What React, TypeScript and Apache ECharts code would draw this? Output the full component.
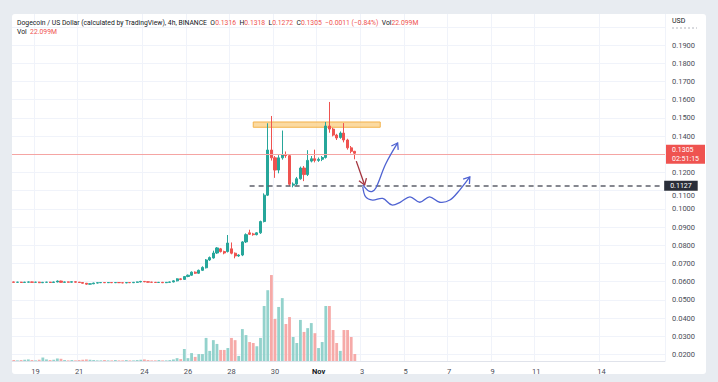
import React, { useEffect, useRef } from 'react';
import * as echarts from 'echarts';

// ---- axis categories: 4h slots from Oct 18 00:00 (UTC) ----
const START = Date.UTC(2021, 9, 18, 0, 0);
const SLOTS = 180;
const categories: string[] = Array.from({ length: SLOTS }, (_, i) => {
  const d = new Date(START + i * 4 * 3600 * 1000);
  return `${d.getUTCMonth() + 1}-${d.getUTCDate()} ${String(d.getUTCHours()).padStart(2, '0')}:00`;
});

// x tick labels (day offset from Oct 18)
const tickDayOffsets = [1, 3, 6, 8, 10, 12, 14, 16, 18, 20, 22, 24, 27];
const tickLabels = ['19', '21', '24', '26', '28', '30', 'Nov', '3', '5', '7', '9', '11', '14'];
// price-scale labels hidden behind the last-price tag / pushed below the level tag
const hiddenPriceLabels = ['0.1300'];
const shiftedPriceLabels = ['0.1100'];

// ---- candles ----
const opens = [
  0.0598, 0.0596, 0.0597, 0.0595, 0.0597, 0.0598, 0.0596, 0.0597, 0.0594, 0.0596,
  0.0597, 0.0595, 0.0598, 0.0603, 0.0596, 0.0598, 0.0597, 0.0599, 0.0597, 0.0595,
  0.0591, 0.0586, 0.0588, 0.0592, 0.0594, 0.0595, 0.0594, 0.0595, 0.0594, 0.0595,
  0.0594, 0.0593, 0.0595, 0.0594, 0.0596, 0.0598, 0.0601, 0.0599, 0.0597, 0.0596,
  0.0595, 0.0596, 0.0594, 0.0596, 0.0598, 0.0604, 0.0615, 0.0612, 0.0628, 0.0635,
  0.0652, 0.0646, 0.0662, 0.0676, 0.0719, 0.0730, 0.0757, 0.0780, 0.0765, 0.0765,
  0.0780, 0.0756, 0.0741, 0.0746, 0.0818, 0.0868, 0.0862, 0.0858, 0.0868, 0.0930,
  0.1075, 0.1323, 0.1280, 0.1213, 0.1280, 0.1298, 0.1292, 0.1130, 0.1136, 0.1165,
  0.1224, 0.1188, 0.1262, 0.1275, 0.1266, 0.1272, 0.1282, 0.1455, 0.1438, 0.1405,
  0.1392, 0.1416, 0.1378, 0.1335, 0.1316,
];
const closes = [
  0.0596, 0.0597, 0.0595, 0.0597, 0.0598, 0.0596, 0.0597, 0.0594, 0.0596, 0.0597,
  0.0595, 0.0598, 0.0603, 0.0596, 0.0598, 0.0597, 0.0599, 0.0597, 0.0595, 0.0591,
  0.0586, 0.0588, 0.0592, 0.0594, 0.0595, 0.0594, 0.0595, 0.0594, 0.0595, 0.0594,
  0.0593, 0.0595, 0.0594, 0.0596, 0.0598, 0.0601, 0.0599, 0.0597, 0.0596, 0.0595,
  0.0596, 0.0594, 0.0596, 0.0598, 0.0604, 0.0615, 0.0612, 0.0628, 0.0635, 0.0652,
  0.0646, 0.0662, 0.0678, 0.0719, 0.0732, 0.0757, 0.0785, 0.0765, 0.0757, 0.0812,
  0.0756, 0.0741, 0.0746, 0.0818, 0.0858, 0.0860, 0.0858, 0.0868, 0.0930, 0.1075,
  0.1323, 0.1280, 0.1213, 0.1280, 0.1298, 0.1292, 0.1135, 0.1136, 0.1165, 0.1224,
  0.1188, 0.1266, 0.1275, 0.1266, 0.1272, 0.1282, 0.1455, 0.1438, 0.1405, 0.1389,
  0.1416, 0.1378, 0.1335, 0.1316, 0.1305,
];
const highs = [
  0.0600, 0.0599, 0.0599, 0.0599, 0.0600, 0.0600, 0.0599, 0.0599, 0.0598, 0.0599,
  0.0599, 0.0600, 0.0606, 0.0605, 0.0600, 0.0600, 0.0601, 0.0601, 0.0598, 0.0597,
  0.0592, 0.0590, 0.0594, 0.0596, 0.0597, 0.0597, 0.0597, 0.0597, 0.0597, 0.0597,
  0.0596, 0.0597, 0.0597, 0.0598, 0.0600, 0.0604, 0.0603, 0.0601, 0.0599, 0.0598,
  0.0598, 0.0598, 0.0598, 0.0600, 0.0607, 0.0618, 0.0618, 0.0631, 0.0639, 0.0656,
  0.0656, 0.0666, 0.0684, 0.0724, 0.0738, 0.0770, 0.0790, 0.0785, 0.0770, 0.0856,
  0.0815, 0.0760, 0.0750, 0.0822, 0.0865, 0.0885, 0.0868, 0.0872, 0.0935, 0.1085,
  0.1470, 0.1510, 0.1290, 0.1295, 0.1430, 0.1315, 0.1300, 0.1145, 0.1175, 0.1232,
  0.1235, 0.1322, 0.1290, 0.1325, 0.1282, 0.1290, 0.1477, 0.1587, 0.1445, 0.1412,
  0.1425, 0.1471, 0.1385, 0.1345, 0.1318,
];
const lows = [
  0.0594, 0.0594, 0.0593, 0.0593, 0.0595, 0.0594, 0.0594, 0.0592, 0.0592, 0.0594,
  0.0593, 0.0593, 0.0596, 0.0594, 0.0594, 0.0595, 0.0595, 0.0595, 0.0593, 0.0589,
  0.0583, 0.0584, 0.0586, 0.0590, 0.0592, 0.0592, 0.0592, 0.0592, 0.0592, 0.0592,
  0.0591, 0.0591, 0.0592, 0.0592, 0.0594, 0.0596, 0.0597, 0.0595, 0.0594, 0.0593,
  0.0593, 0.0592, 0.0592, 0.0594, 0.0596, 0.0601, 0.0608, 0.0609, 0.0624, 0.0632,
  0.0642, 0.0643, 0.0658, 0.0672, 0.0714, 0.0726, 0.0752, 0.0760, 0.0750, 0.0760,
  0.0750, 0.0728, 0.0736, 0.0740, 0.0812, 0.0856, 0.0852, 0.0854, 0.0862, 0.0925,
  0.1070, 0.1265, 0.1170, 0.1195, 0.1270, 0.1280, 0.1125, 0.1118, 0.1128, 0.1160,
  0.1152, 0.1180, 0.1255, 0.1255, 0.1258, 0.1262, 0.1276, 0.1418, 0.1398, 0.1378,
  0.1385, 0.1365, 0.1325, 0.1305, 0.1272,
];
// volume in millions
const volumes = [
  3, 2, 3, 4, 5, 3, 2, 4, 11, 5,
  3, 4, 8, 7, 3, 2, 3, 2, 3, 4,
  5, 4, 3, 2, 2, 3, 2, 2, 3, 2,
  2, 3, 2, 2, 3, 4, 5, 3, 2, 2,
  3, 2, 2, 3, 5, 9, 6, 38, 9, 25,
  13, 22, 22, 73, 32, 66, 54, 35, 35, 41,
  73, 66, 16, 101, 82, 60, 57, 47, 73, 174,
  224, 272, 133, 171, 199, 117, 139, 76, 57, 130,
  92, 104, 120, 88, 41, 60, 174, 174, 98, 57,
  32, 98, 98, 76, 22.099,
];

// ---- drawn annotations (category index, price) ----
const resistanceZone = { fromIdx: 66, toIdx: 101, top: 0.1477, bottom: 0.1448 };
const supportLevel = 0.1127;
const supportStartIdx = 65;
const dropArrow = [[94.4, 0.1262], [96.7, 0.1131]];
const bounceArrow = [[96.2, 0.1131], [97.6, 0.1101], [98.7, 0.1095], [99.8, 0.1114], [102.5, 0.1246], [105.8, 0.1362]];
const rangeArrow = [
  [96.2, 0.1120], [97.0, 0.1065], [98.9, 0.1048], [101.7, 0.1057], [104.2, 0.1021], [106.6, 0.1037],
  [109.2, 0.1066], [111.9, 0.1036], [114.6, 0.1066], [117.4, 0.1036], [120.2, 0.1048], [122.9, 0.1103], [125.7, 0.1175],
];

const UP = '#26a69a';
const DOWN = '#ef5350';
const VOL_UP = '#93d2cc';
const VOL_DOWN = '#f6aaa8';
const FONT = 'Roboto, "Liberation Sans", Arial, sans-serif';

export default function App() {
  const ref = useRef<HTMLDivElement>(null);
  useEffect(() => {
    if (!ref.current) return;
    const chart = echarts.init(ref.current, null, { renderer: 'svg' });
    const tickIdx = tickDayOffsets.map((d) => d * 6);
    const last = opens.length - 1;
    const lastClose = closes[last];

    chart.setOption({
      animation: false,
      textStyle: { fontFamily: FONT },
      grid: [
        { left: 12, right: 53, top: 8.6, bottom: 9.4 },
        { left: 12, right: 53, top: 14, bottom: 21 },
      ],
      xAxis: [
        { type: 'category', gridIndex: 0, data: categories, show: false },
        {
          type: 'category', gridIndex: 1, data: categories,
          axisLine: { lineStyle: { color: '#e0e3eb' } },
          axisTick: { show: false },
          axisLabel: {
            interval: (i: number) => tickIdx.includes(i),
            formatter: (_v: string, i: number) => {
              const k = tickIdx.indexOf(i);
              if (k < 0) return '';
              const t = tickLabels[k];
              return t === 'Nov' ? `{b|${t}}` : t;
            },
            rich: { b: { fontWeight: 'bold', fontSize: 7.5, color: '#131722', fontFamily: FONT } },
            color: '#4a4d57', fontSize: 7.5, margin: 6, fontFamily: FONT,
          },
          splitLine: {
            show: true,
            interval: (i: number) => tickIdx.includes(i),
            lineStyle: { color: '#f0f3fa', width: 1 },
          },
        },
      ],
      yAxis: [
        {
          type: 'value', gridIndex: 0, position: 'right', min: 0.01, max: 0.21, interval: 0.01,
          axisLine: { show: false }, axisTick: { show: false },
          axisLabel: {
            color: '#4a4d57', fontSize: 7.5, margin: 7, fontFamily: FONT,
            formatter: (v: number) => {
              if (!(v > 0.015 && v < 0.195)) return '';
              const s = v.toFixed(4);
              if (hiddenPriceLabels.includes(s)) return '';
              return shiftedPriceLabels.includes(s) ? `{d|${s}}` : s;
            },
            rich: { d: { padding: [10, 0, 0, 0], color: '#4a4d57', fontSize: 7.5, fontFamily: FONT } },
          },
          splitLine: { show: true, showMinLine: false, showMaxLine: false, lineStyle: { color: '#f0f3fa' } },
        },
        { type: 'value', gridIndex: 1, min: 0, max: 1098, show: false, splitLine: { show: false } },
      ],
      series: [
        {
          type: 'bar', xAxisIndex: 1, yAxisIndex: 1, barWidth: '78%',
          data: volumes.map((v, i) => ({ value: v, itemStyle: { color: closes[i] >= opens[i] ? VOL_UP : VOL_DOWN } })),
          z: 1,
        },
        {
          type: 'candlestick', xAxisIndex: 0, yAxisIndex: 0, barWidth: '72%',
          data: opens.map((o, i) => [o, closes[i], lows[i], highs[i]]),
          itemStyle: { color: UP, color0: DOWN, borderColor: UP, borderColor0: DOWN, borderWidth: 1 },
          z: 3,
          markArea: {
            silent: true,
            itemStyle: { color: 'rgba(249,205,130,0.75)', borderColor: '#f3b24a', borderWidth: 1 },
            data: [[
              { xAxis: categories[resistanceZone.fromIdx], yAxis: resistanceZone.top },
              { xAxis: categories[resistanceZone.toIdx], yAxis: resistanceZone.bottom },
            ]],
          },
          markLine: {
            silent: true, symbol: ['none', 'none'],
            data: [
              {
                yAxis: lastClose,
                lineStyle: { color: '#f5a5a3', width: 1, type: 'solid' },
                label: {
                  show: true, position: 'end', distance: 1,
                  formatter: `${lastClose.toFixed(4)}\n02:51:15`,
                  backgroundColor: '#ef5350', color: '#fff', fontSize: 7, lineHeight: 9,
                  padding: [1, 6, 0, 6], fontFamily: FONT,
                },
              },
              [
                {
                  xAxis: categories[supportStartIdx], yAxis: supportLevel,
                  lineStyle: { color: '#5d606b', width: 1.5, type: [5, 4] },
                  label: {
                    show: true, position: 'end', distance: 1, formatter: supportLevel.toFixed(4),
                    backgroundColor: '#2a2e39', color: '#fff', fontSize: 7, padding: [2, 6, 1, 6], fontFamily: FONT,
                  },
                },
                {
                  xAxis: categories[SLOTS - 1], yAxis: supportLevel,
                  lineStyle: { color: '#5d606b', width: 1.5, type: [5, 4] },
                },
              ],
            ],
          },
        },
      ],
    });

    const toPx = (idx: number, price: number) => {
      const i0 = Math.floor(idx);
      const f = idx - i0;
      const a = chart.convertToPixel({ gridIndex: 0 }, [i0, price]) as number[];
      const b = chart.convertToPixel({ gridIndex: 0 }, [i0 + 1, price]) as number[];
      return [a[0] + f * (b[0] - a[0]), a[1]];
    };
    const head = (p: number[], q: number[], len = 7, ang = 0.6) => {
      const dx = p[0] - q[0], dy = p[1] - q[1];
      const d = Math.hypot(dx, dy) || 1;
      const ux = dx / d, uy = dy / d;
      const rot = (a: number) => [
        q[0] + len * (ux * Math.cos(a) - uy * Math.sin(a)),
        q[1] + len * (ux * Math.sin(a) + uy * Math.cos(a)),
      ];
      return [rot(ang), q, rot(-ang)];
    };
    const arrowEls = (pts: number[][], color: string, smooth: number) => {
      const px = pts.map((p) => toPx(p[0], p[1]));
      const n = px.length;
      return [
        { type: 'polyline', silent: true, z: 100, shape: { points: px, smooth }, style: { stroke: color, lineWidth: 1.3, fill: 'none' } },
        { type: 'polyline', silent: true, z: 100, shape: { points: head(px[n - 2], px[n - 1]) }, style: { stroke: color, lineWidth: 1.3, fill: 'none' } },
      ];
    };

    const prevClose = closes[last - 1];
    const chg = lastClose - prevClose;
    const pct = (chg / prevClose) * 100;
    const sign = (x: number) => (x < 0 ? '\u2212' : '+');
    const headerText =
      `Dogecoin / US Dollar (calculated by TradingView), 4h, BINANCE  O{r|${opens[last].toFixed(4)}}  H{r|${highs[last].toFixed(4)}}  ` +
      `L{r|${lows[last].toFixed(4)}}  C{r|${lastClose.toFixed(4)}}  {r|${sign(chg)}${Math.abs(chg).toFixed(4)} (${sign(chg)}${Math.abs(pct).toFixed(2)}%)}  ` +
      `Vol{r|${volumes[last].toFixed(3)}M}`;

    chart.setOption({
      graphic: [
        {
          type: 'text', left: 17, top: 19, silent: true,
          style: { text: headerText, fill: '#131722', fontSize: 6.8, fontFamily: FONT, rich: { r: { fill: '#ef5350', fontSize: 6.8, fontFamily: FONT } } },
        },
        {
          type: 'text', left: 17, top: 28, silent: true,
          style: { text: `Vol  {r|${volumes[last].toFixed(3)}M}`, fill: '#131722', fontSize: 6.8, fontFamily: FONT, rich: { r: { fill: '#ef5350', fontSize: 6.8, fontFamily: FONT } } },
        },
        { type: 'text', left: 672, top: 17, silent: true, style: { text: 'USD', fill: '#131722', fontSize: 7, fontFamily: FONT } },
        { type: 'line', silent: true, shape: { x1: 672, y1: 28, x2: 697, y2: 28 }, style: { stroke: '#b2b5be', lineWidth: 1, lineDash: [2, 2] } },
        ...arrowEls(dropArrow, '#a3333d', 0),
        ...arrowEls(bounceArrow, '#4f63d2', 0.35),
        ...arrowEls(rangeArrow, '#4f63d2', 0.35),
      ],
    });

    return () => chart.dispose();
  }, []);

  return (
    <div style={{ position: 'fixed', left: 0, top: 0, width: 718, height: 382, background: '#e8ecf1', overflow: 'hidden' }}>
      <div style={{ position: 'absolute', left: 12, top: 14, width: 694, height: 360, background: '#ffffff', borderRadius: 3 }} />
      <div ref={ref} style={{ position: 'absolute', left: 0, top: 0, width: 718, height: 382 }} />
    </div>
  );
}
